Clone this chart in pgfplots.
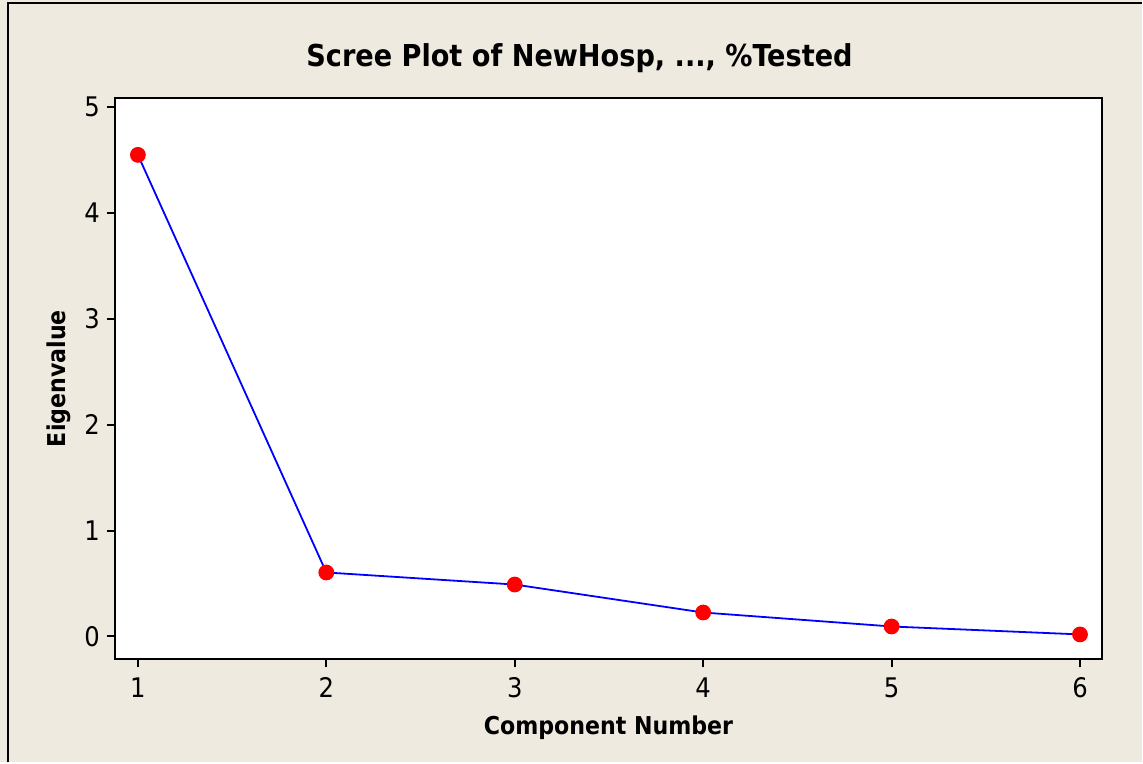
\documentclass[border=0pt]{standalone}
\usepackage{fontspec}
\setmainfont{DejaVu Sans Condensed}
\usepackage{pgfplots}
\pgfplotsset{compat=1.18}
\definecolor{bgbeige}{HTML}{EEEAE0}
\begin{document}
\begin{tikzpicture}
\fill[bgbeige] (0pt,0pt) rectangle (571.5pt,381.5pt);
\draw[line width=1pt] (4pt,0pt) -- (4pt,380pt) -- (571.5pt,380pt);
\node[font=\bfseries\fontsize{15.1}{18}\selectfont] at (290pt,352.5pt) {Scree Plot of NewHosp, ..., \%Tested};
\begin{axis}[
  at={(57.5pt,51.5pt)}, anchor=south west,
  scale only axis, width=494pt, height=281pt,
  xmin=0.878, xmax=6.117, ymin=-0.217, ymax=5.085,
  xtick={1,...,6}, ytick={0,...,5},
  tick align=outside, tick pos=left,
  major tick length=4pt,
  axis line style={line width=1pt},
  tick style={line width=1pt, black},
  axis background/.style={fill=white},
  /pgf/number format/assume math mode=true,
  ticklabel style={font=\fontsize{13.5}{15}\selectfont},
  xticklabel style={yshift=-1.5pt},
  xlabel={\bfseries Component Number},
  ylabel={\bfseries Eigenvalue},
  label style={font=\bfseries\fontsize{12.3}{15}\selectfont},
  xlabel style={yshift=-2pt},
  ylabel style={yshift=0pt},
]
\addplot[blue, line width=0.9pt, mark=*, mark size=3.5pt,
  mark options={fill=red, draw=red}] coordinates {
  (1,4.547) (2,0.604) (3,0.49) (4,0.226) (5,0.094) (6,0.019)
};
\end{axis}
\end{tikzpicture}
\end{document}
